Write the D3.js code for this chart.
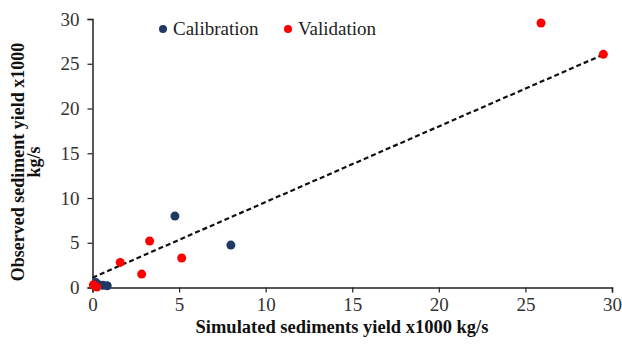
<!DOCTYPE html>
<html lang="en">
<head>
	<meta charset="UTF-8"/>
	<title>Sediment yield</title>
	<script src="https://d3js.org/d3.v7.min.js"></script>
	<style>
		body { margin: 0; background: #fff; }
		text { font-family: "Liberation Serif", "Times New Roman", serif; }
	</style>
</head>
<body>
	<script>
	var w = 622;
	var h = 347;

	// calibration points [simulated, observed]
	var calSim = [4.76, 7.99, 0.35, 0.6, 0.85, 0.2];
	var calObs = [7.98, 4.74, 0.3, 0.25, 0.2, 0.55];

	// validation points
	var valSim = [25.9, 29.5, 3.3, 5.15, 1.6, 2.84, 0.15, 0.05, 0.25];
	var valObs = [29.55, 26.05, 5.2, 3.3, 2.8, 1.5, 0.1, 0.3, 0.05];

	// trend line y = a + b x
	var trendRange = [0, 29.5];
	var trendIntercept = 1.1;
	var trendSlope = 0.845;

	var ticks = [0, 5, 10, 15, 20, 25, 30];

	var xScale = d3.scaleLinear()
				.domain([0, 30])
				.range([92.5, 612]);

	var yScale = d3.scaleLinear()
				.domain([0, 30])
				.range([287.5, 19]);

	var svg = d3.select("body")
				.append("svg")
				.attr("width", w)
				.attr("height", h);

	//x axis
	var xAxis = d3.axisBottom(xScale)
				.tickValues(ticks)
				.tickSize(5)
				.tickPadding(5);
	var gx = svg.append("g")
		.attr("transform", "translate(0," + yScale(0) + ")")
		.call(xAxis);

	//y axis
	var yAxis = d3.axisLeft(yScale)
				.tickValues(ticks)
				.tickSize(5)
				.tickPadding(8);
	var gy = svg.append("g")
		.attr("transform", "translate(" + xScale(0) + ",0)")
		.call(yAxis);

	[gx, gy].forEach(function(g){
		g.attr("font-family", null);
		g.select(".domain").attr("stroke", "#222").attr("stroke-width", 1.5);
		g.selectAll(".tick line").attr("stroke", "#222").attr("stroke-width", 1.2);
		g.selectAll(".tick text")
			.attr("fill", "#333")
			.style("font-family", "'Liberation Serif', serif")
			.style("font-size", "19px");
	});

	//trend line
	svg.append("line")
		.attr("x1", xScale(trendRange[0]))
		.attr("y1", yScale(trendIntercept + trendSlope * trendRange[0]))
		.attr("x2", xScale(trendRange[1]))
		.attr("y2", yScale(trendIntercept + trendSlope * trendRange[1]))
		.attr("stroke", "#111")
		.attr("stroke-width", 2.2)
		.attr("stroke-dasharray", "5,3");

	//calibration points
	svg.selectAll("circle.cal")
		.data(d3.range(calSim.length))
		.enter()
		.append("circle")
		.attr("class", "cal")
		.attr("cx", function(i){ return xScale(calSim[i]); })
		.attr("cy", function(i){ return yScale(calObs[i]); })
		.attr("r", 4.5)
		.attr("fill", "#1f3864");

	//validation points
	svg.selectAll("circle.val")
		.data(d3.range(valSim.length))
		.enter()
		.append("circle")
		.attr("class", "val")
		.attr("cx", function(i){ return xScale(valSim[i]); })
		.attr("cy", function(i){ return yScale(valObs[i]); })
		.attr("r", 4.5)
		.attr("fill", "#ff0000");

	//legend
	var legend = [["Calibration", "#1f3864", 163], ["Validation", "#ff0000", 288]];
	legend.forEach(function(d){
		svg.append("circle")
			.attr("cx", d[2])
			.attr("cy", 29)
			.attr("r", 4)
			.attr("fill", d[1]);
		svg.append("text")
			.attr("x", d[2] + 10)
			.attr("y", 35)
			.text(d[0])
			.style("font-size", "19px")
			.style("fill", "#222");
	});

	// X axis label
	svg.append("text")
		.attr("text-anchor", "middle")
		.attr("x", 342)
		.attr("y", 333)
		.text("Simulated sediments yield x1000 kg/s")
		.style("font-size", "18.5px")
		.style("font-weight", "bold")
		.style("fill", "#111");

	// Y axis label
	var ylab = svg.append("text")
		.attr("text-anchor", "middle")
		.attr("transform", "translate(24,162) rotate(-90)")
		.style("font-size", "18px")
		.style("font-weight", "bold")
		.style("fill", "#111");
	ylab.append("tspan").attr("x", 0).attr("y", 0).text("Observed sediment yield x1000");
	ylab.append("tspan").attr("x", 0).attr("y", 16).text("kg/s");
	</script>
</body>
</html>
